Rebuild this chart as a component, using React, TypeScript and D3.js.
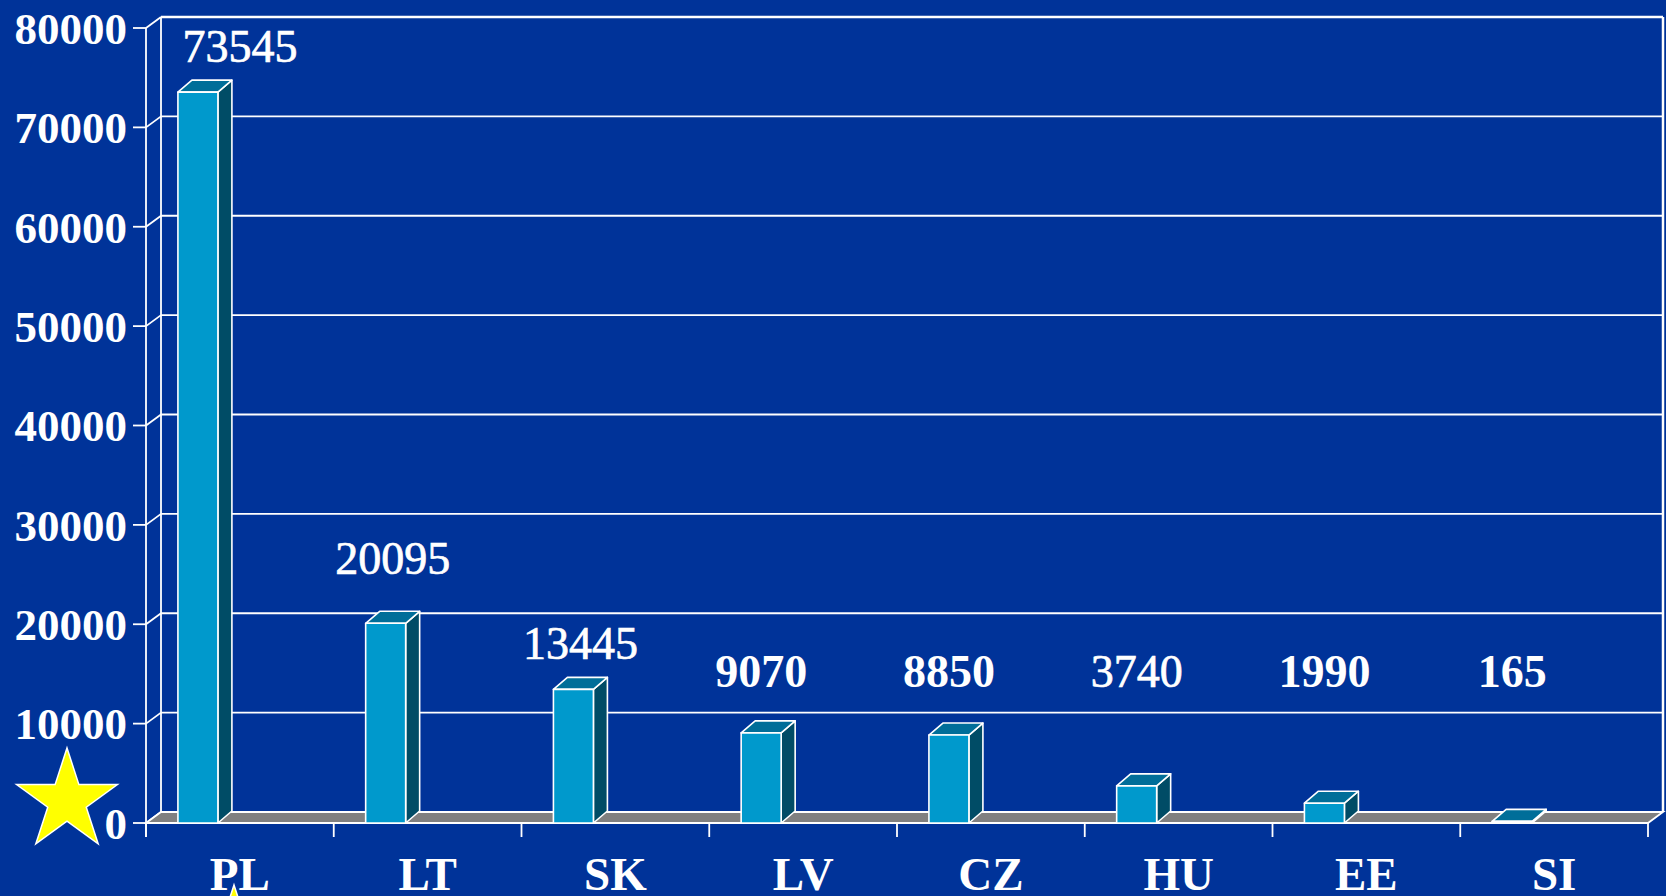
import React from "react";
import * as d3 from "d3";

const categories = ["PL", "LT", "SK", "LV", "CZ", "HU", "EE", "SI"];
const values = [73545, 20095, 13445, 9070, 8850, 3740, 1990, 165];
const yTicks = [0, 10000, 20000, 30000, 40000, 50000, 60000, 70000, 80000];

// label styling as seen in the picture (not data)
const labelWeights = ["normal", "normal", "normal", "bold", "bold", "normal", "bold", "bold"];
const labelLift = [0, 19, 0, 0, 0, 0, 0, 0];

const W = 1666;
const H = 896;
const BG = "#003399";
const FRONT = "#0099CC";
const TOP = "#006E99";
const SIDE = "#004C66";
const FONT = "'Liberation Serif', 'Times New Roman', serif";

function starPath(cx: number, cy: number, R: number) {
  const r = R * 0.382;
  const pts: [number, number][] = [];
  for (let i = 0; i < 10; i++) {
    const a = -Math.PI / 2 + (i * Math.PI) / 5;
    const rad = i % 2 === 0 ? R : r;
    pts.push([cx + rad * Math.cos(a), cy + rad * Math.sin(a)]);
  }
  return d3.line()(pts) + "Z";
}

export default function App() {
  const x0 = 146, x1 = 1648;
  const yBase = 823;
  const wdx = 15, wdy = -11;
  const bdx = 14, bdy = -12;

  const x = d3.scaleBand<string>().domain(categories).range([x0, x1]).padding(0);
  const y = d3.scaleLinear().domain([0, 80000]).range([yBase, 28]);
  const bw = x.bandwidth();
  const barOff = bw * 0.17;
  const barW = bw * 0.213;

  const stroke = "#FFFFFF";

  return (
    <svg width={W} height={H} style={{ position: "absolute", left: 0, top: 0, background: BG }}>
      <rect x={0} y={0} width={W} height={H} fill={BG} />
      {yTicks.map((t) => (
        <g key={t}>
          {t > 0 && (
            <line x1={x0 + wdx} x2={x1 + wdx} y1={y(t) + wdy} y2={y(t) + wdy} stroke={stroke} strokeWidth={t === 80000 ? 2.5 : 1.8} />
          )}
          <line x1={x0} x2={x0 + wdx} y1={y(t)} y2={y(t) + wdy} stroke={stroke} strokeWidth={1.8} />
          <line x1={x0 - 13} x2={x0} y1={y(t)} y2={y(t)} stroke={stroke} strokeWidth={1.8} />
          <text x={127} y={y(t)} dy="0.35em" textAnchor="end" fill="#fff" fontFamily={FONT} fontWeight="bold" fontSize={45}>
            {t}
          </text>
        </g>
      ))}
      <line x1={x0} x2={x0} y1={y(80000)} y2={yBase + 14} stroke={stroke} strokeWidth={1.8} />
      <line x1={x0 + wdx} x2={x0 + wdx} y1={y(80000) + wdy} y2={yBase + wdy} stroke={stroke} strokeWidth={1.8} />
      <line x1={x1 + wdx} x2={x1 + wdx} y1={y(80000) + wdy} y2={yBase + wdy} stroke={stroke} strokeWidth={2.5} />
      <path
        d={`M${x0},${yBase} L${x1},${yBase} L${x1 + wdx},${yBase + wdy} L${x0 + wdx},${yBase + wdy} Z`}
        fill="#808080"
        stroke={stroke}
        strokeWidth={1.8}
      />
      {[...categories.map((c) => x(c) as number), x1].map((tx, i) => (
        <line key={i} x1={tx} x2={tx} y1={yBase} y2={yBase + 14} stroke={stroke} strokeWidth={1.8} />
      ))}
      {categories.map((c, i) => {
        const bx = (x(c) as number) + barOff;
        const by = y(values[i]);
        const bx2 = bx + barW;
        return (
          <g key={c} stroke={stroke} strokeWidth={1.6} strokeLinejoin="round">
            <path d={`M${bx2},${yBase} L${bx2 + bdx},${yBase + bdy} L${bx2 + bdx},${by + bdy} L${bx2},${by} Z`} fill={SIDE} />
            <path d={`M${bx},${by} L${bx2},${by} L${bx2 + bdx},${by + bdy} L${bx + bdx},${by + bdy} Z`} fill={TOP} />
            {yBase - by > 1 && <rect x={bx} y={by} width={barW} height={yBase - by} fill={FRONT} />}
          </g>
        );
      })}
      {categories.map((c, i) => {
        const bx = (x(c) as number) + barOff;
        const cx = i === 0 ? (x(c) as number) + bw / 2 : bx + barW / 2 + (i < 3 ? 7 : 0);
        const ly = Math.min(y(values[i]) - 30, 687) - labelLift[i];
        const normal = labelWeights[i] === "normal";
        return (
          <text
            key={c}
            x={cx}
            y={ly}
            textAnchor="middle"
            fill="#fff"
            stroke={normal ? "#fff" : "none"}
            strokeWidth={normal ? 0.7 : 0}
            fontFamily={FONT}
            fontWeight={labelWeights[i]}
            fontSize={46}
          >
            {values[i]}
          </text>
        );
      })}
      {categories.map((c) => (
        <text key={c} x={(x(c) as number) + bw / 2} y={890} textAnchor="middle" fill="#fff" fontFamily={FONT} fontWeight="bold" fontSize={47}>
          {c}
        </text>
      ))}
      <path d={starPath(67, 801, 53)} fill="#FFFF00" stroke="#fff" strokeWidth={1.5} />
      <path d={starPath(234, 938, 53)} fill="#FFFF00" stroke="#fff" strokeWidth={1.5} />
    </svg>
  );
}
